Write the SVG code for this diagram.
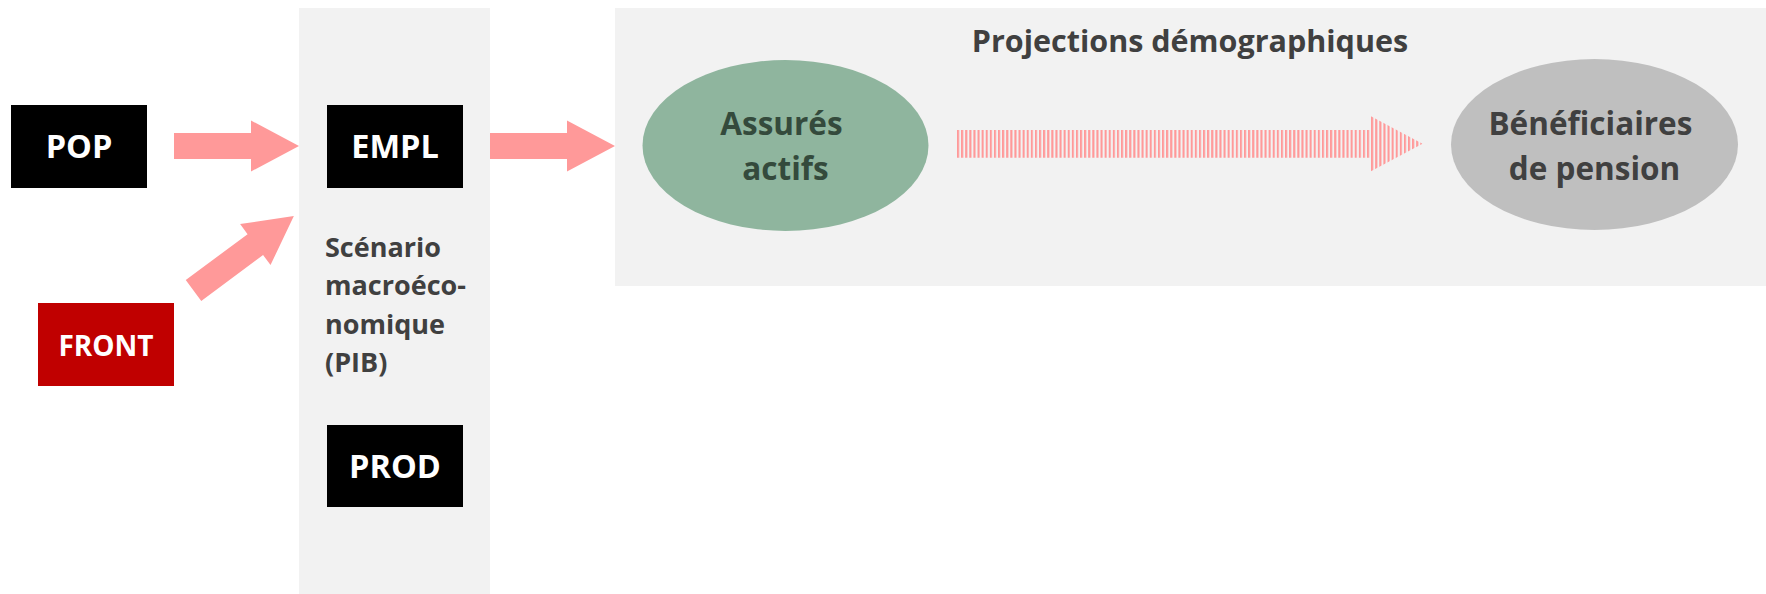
<svg xmlns="http://www.w3.org/2000/svg" xmlns:xlink="http://www.w3.org/1999/xlink" width="1766" height="594" viewBox="0 0 1766 594">
  <style>
    .panel { fill: #F2F2F2; }
    .box { fill: #000000; }
    .box-red { fill: #C00000; }
    .box-label { font-family: "Open Sans", "DejaVu Sans", sans-serif; font-weight: 700; fill: #FFFFFF; text-anchor: middle; }
    .side-label { font-family: "Open Sans", "DejaVu Sans", sans-serif; font-weight: 700; font-size: 27px; fill: #404040; }
    .title { font-family: "Open Sans", "DejaVu Sans", sans-serif; font-weight: 700; font-size: 30.5px; fill: #404040; text-anchor: middle; }
    .oval-label { font-family: "Open Sans", "DejaVu Sans", sans-serif; font-weight: 700; font-size: 31.5px; text-anchor: middle; }
    .fat-arrow { fill: #FF9999; }
  </style>
  <defs>
    <!-- block arrow pointing along +x, tail at origin -->
    <polygon id="block-arrow" points="0,-13 77,-13 77,-25.5 125,0 77,25.5 77,13 0,13"/>
    <!-- thin vertical hatching used for the transition arrow -->
    <pattern id="hatch" patternUnits="userSpaceOnUse" x="957" y="0" width="4.1" height="20">
      <rect x="0" y="0" width="2.1" height="20" fill="#FF9999"/>
    </pattern>
  </defs>

  <!-- background panels -->
  <rect id="macro-panel" class="panel" x="299" y="8" width="191" height="586"/>
  <rect id="demo-panel" class="panel" x="615" y="8" width="1151" height="278"/>

  <!-- connectors -->
  <g id="connectors">
    <use id="pop-to-empl" xlink:href="#block-arrow" class="fat-arrow" transform="translate(174,146)"/>
    <use id="front-to-empl" xlink:href="#block-arrow" class="fat-arrow" transform="translate(193.5,290.5) rotate(-36.6)"/>
    <use id="empl-to-demo" xlink:href="#block-arrow" class="fat-arrow" transform="translate(490,146)"/>
    <polygon id="actifs-to-pension" fill="url(#hatch)" points="957,130 1370,130 1370,115.7 1422.5,143.8 1370,171.8 1370,157.7 957,157.7"/>
  </g>

  <!-- input nodes -->
  <g id="node-pop">
    <rect class="box" x="11" y="105" width="136" height="83"/>
    <text class="box-label" x="79" y="158" font-size="32.5">POP</text>
  </g>
  <g id="node-front">
    <rect class="box-red" x="38" y="303" width="136" height="83"/>
    <text class="box-label" x="106" y="356" font-size="28">FRONT</text>
  </g>

  <!-- macroeconomic scenario column -->
  <g id="node-empl">
    <rect class="box" x="327" y="105" width="136" height="83"/>
    <text class="box-label" x="395" y="158" font-size="32.5">EMPL</text>
  </g>
  <g id="macro-label">
    <text class="side-label" x="325">
      <tspan x="325" y="256.5">Scénario</tspan>
      <tspan x="325" y="295">macroéco-</tspan>
      <tspan x="325" y="333.5">nomique</tspan>
      <tspan x="325" y="372">(PIB)</tspan>
    </text>
  </g>
  <g id="node-prod">
    <rect class="box" x="327" y="425" width="136" height="82"/>
    <text class="box-label" x="395" y="478" font-size="32.5">PROD</text>
  </g>

  <!-- demographic projections -->
  <g id="demo-title">
    <text class="title" x="1190" y="52">Projections démographiques</text>
  </g>
  <g id="node-actifs">
    <ellipse cx="785.5" cy="145.5" rx="143" ry="85.5" fill="#8FB59E"/>
    <text class="oval-label" fill="#344A3C">
      <tspan x="785.5" y="135">Assurés</tspan>
      <tspan x="785.5" y="180">actifs</tspan>
    </text>
  </g>
  <g id="node-pension">
    <ellipse cx="1594.5" cy="144.5" rx="143.5" ry="85.5" fill="#BFBFBF"/>
    <text class="oval-label" fill="#404040">
      <tspan x="1594.5" y="135">Bénéficiaires</tspan>
      <tspan x="1594.5" y="180">de pension</tspan>
    </text>
  </g>
</svg>
